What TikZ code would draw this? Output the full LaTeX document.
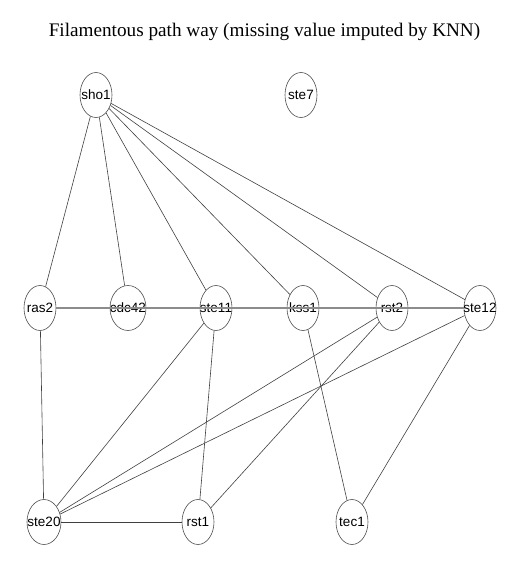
\documentclass[tikz,border=0pt]{standalone}
\usepackage{fontspec}
\setmainfont{Liberation Serif}
\newfontfamily\nodefont{Liberation Sans}
\usetikzlibrary{shapes.geometric}
\newcommand{\zw}[1]{\makebox[0pt]{#1}}
\begin{document}
\begin{tikzpicture}[x=1pt,y=-1pt,
  gnode/.style={ellipse,draw=black!70,line width=0.6pt,minimum width=32pt,minimum height=45pt,inner sep=0pt,font=\nodefont\fontsize{13.5}{13.5}\selectfont},
  edge/.style={draw=black!75,line width=0.6pt},
  hedge/.style={draw=black!45,line width=1.1pt}]
\useasboundingbox (0,0) rectangle (524,566);
\node[font=\fontsize{19.2}{19.2}\selectfont] (title) at (264.5,32) {Filamentous path way (missing value imputed by KNN)};
\node[gnode] (sho1) at (96,95) {\zw{sho1}};
\node[gnode] (ste7) at (301,95) {\zw{ste7}};
\node[gnode] (ras2) at (40,308) {\zw{ras2}};
\node[gnode,minimum width=36pt] (cdc42) at (128,308) {\zw{cdc42}};
\node[gnode] (ste11) at (216,308) {\zw{ste11}};
\node[gnode] (kss1) at (303,308) {\zw{kss1}};
\node[gnode] (rst2) at (392,308) {\zw{rst2}};
\node[gnode] (ste12) at (480,308) {\zw{ste12}};
\node[gnode,minimum width=34pt] (ste20) at (44,522) {\zw{ste20}};
\node[gnode] (rst1) at (198,522) {\zw{rst1}};
\node[gnode] (tec1) at (352,522) {\zw{tec1}};
\draw[hedge] (ras2) -- (ste12);
\foreach \t in {ras2,cdc42,ste11,kss1,rst2,ste12} \draw[edge] (sho1) -- (\t);
\draw[edge] (ras2) -- (ste20);
\draw[edge] (ste11) -- (ste20);
\draw[edge] (ste11) -- (rst1);
\draw[edge] (kss1) -- (tec1);
\draw[edge] (rst2) -- (ste20);
\draw[edge] (rst2) -- (rst1);
\draw[edge] (ste12) -- (ste20);
\draw[edge] (ste12) -- (tec1);
\draw[edge] (ste20) -- (rst1);
\end{tikzpicture}
\end{document}
